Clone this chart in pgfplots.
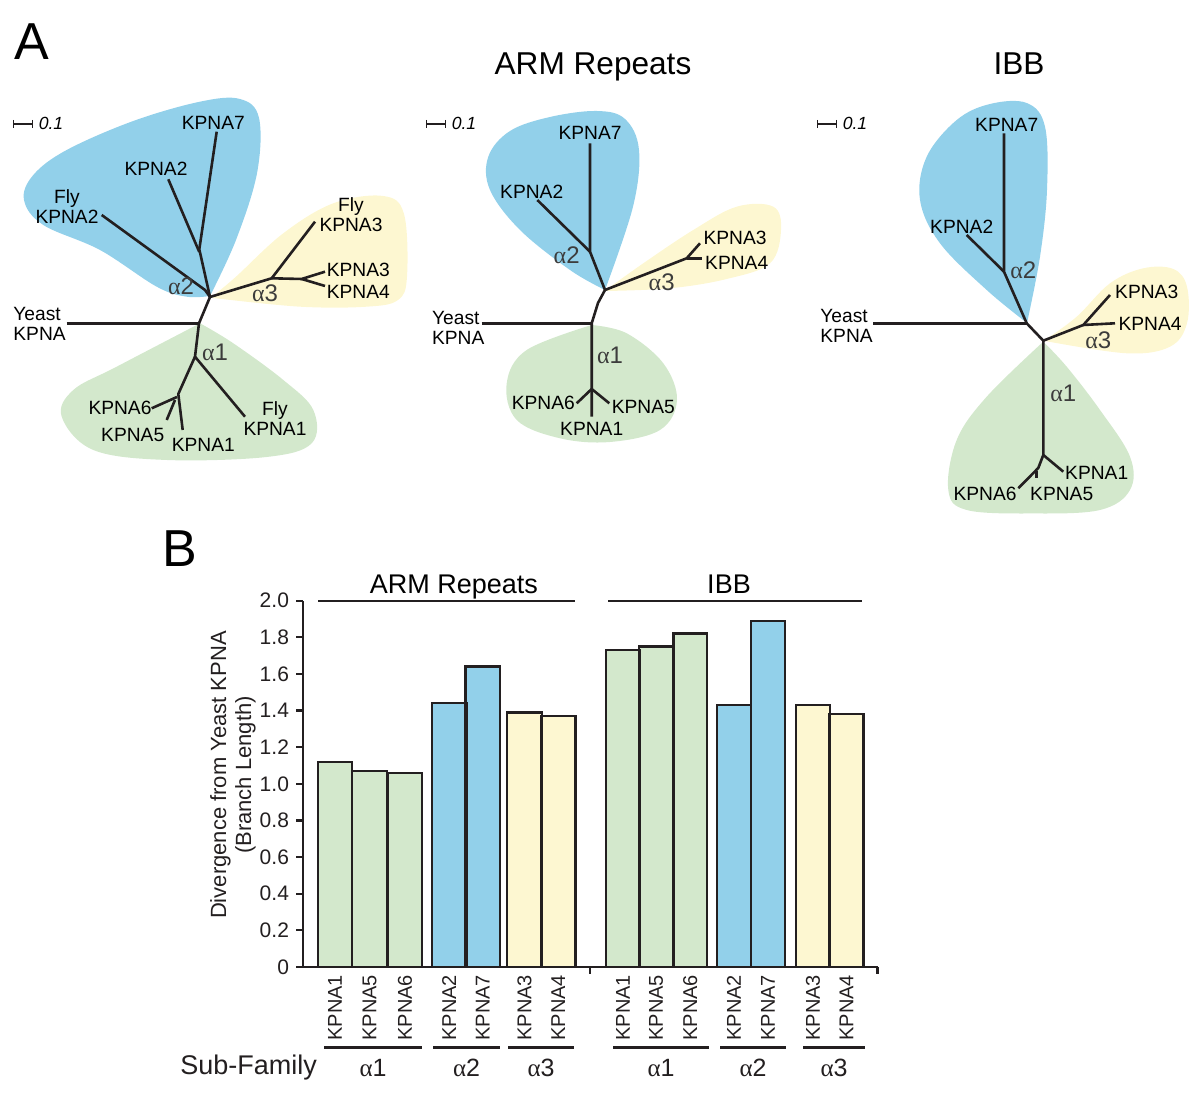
\documentclass[border=0pt]{standalone}
\usepackage{pgfplots}
\pgfplotsset{compat=1.18}
\usepackage{fontspec}
\setmainfont{Liberation Sans}
\newfontfamily\grk{Liberation Serif}
\definecolor{blueC}{RGB}{146,208,234}
\definecolor{greenC}{RGB}{211,232,204}
\definecolor{yellowC}{RGB}{253,247,209}
\definecolor{lineC}{RGB}{35,31,32}
\definecolor{alC}{RGB}{60,60,60}
\newcommand{\al}[1]{{\grk α}#1}
\tikzset{
  tl/.style={font=\fontsize{9.6}{10}\selectfont, inner sep=0pt, align=center},
  tal/.style={font=\fontsize{12}{12}\selectfont, inner sep=0pt, text=alC},
}
\begin{document}
\begin{tikzpicture}
\begin{axis}[scale only axis, width=600pt, height=547.5pt,
  xmin=0, xmax=1200, ymin=0, ymax=1095, y dir=reverse, hide axis, clip=false,
  every axis plot/.append style={mark=none}]
% ---------- blobs tree 1
\addplot[fill=blueC, draw=none, smooth, tension=0.6] coordinates {(210,296) (186.7,296.7) (156.7,286.7) (100,250) (43.3,225) (24,200) (33.3,175) (66.7,150) (133.3,121) (200,101.7) (240,99) (259,118) (257,173.3) (236,240) (210,296)};
\addplot[fill=yellowC, draw=none, smooth, tension=0.6] coordinates {(213,296) (236,276.7) (283.3,233.3) (333.3,203.3) (383.3,196) (404,214) (407,276.7) (398,300) (366.7,306.7) (300,306.7) (213,298)};
\addplot[fill=greenC, draw=none, smooth, tension=0.6] coordinates {(200,323.3) (233.3,343.3) (283.3,380) (313.3,410) (311.7,443.3) (266.7,457) (166.7,460) (93.3,450) (61.7,416.7) (73.3,390) (116.7,366.7) (200,323.3)};
% ---------- blobs tree 2
\addplot[fill=blueC, draw=none, smooth, tension=0.6] coordinates {(605,290) (570,270) (520,230) (490,190) (488.3,156.7) (510,131) (550,117) (596.7,111) (625,119) (639,150) (633,206.7) (605,290)};
\addplot[fill=yellowC, draw=none, smooth, tension=0.6] coordinates {(606,290) (643.3,263.3) (693.3,230) (736.7,206.7) (773.3,206.7) (781,230) (770,263.3) (726.7,279) (670,288.3) (606,291)};
\addplot[fill=greenC, draw=none, smooth, tension=0.6] coordinates {(591.7,325) (626.7,333.3) (663.3,363.3) (677,400) (660,430) (610,442) (560,438.3) (516.7,420) (506.7,383.3) (526.7,350) (591.7,325)};
% ---------- blobs tree 3
\addplot[fill=blueC, draw=none, smooth, tension=0.6] coordinates {(1027,323) (986.7,290) (940,243.3) (920,200) (926.7,156.7) (956.7,120) (990,104) (1026.7,103) (1045,126.7) (1047,190) (1040,256.7) (1027,323)};
\addplot[fill=yellowC, draw=none, smooth, tension=0.6] coordinates {(1045,340) (1076.7,316.7) (1110,283.3) (1143.3,268.3) (1173.3,269) (1187,286.7) (1187,323.3) (1170,346.7) (1126.7,353.3) (1045,341)};
\addplot[fill=greenC, draw=none, smooth, tension=0.6] coordinates {(1043.3,341.7) (1066.7,366.7) (1100,410) (1130,456.7) (1130,490) (1100,510) (1033.3,513.5) (966.7,510) (948.3,490) (956.7,440) (986.7,396.7) (1043.3,341.7)};
% ---------- tree 1 lines
\pgfplotsset{every axis plot/.append style={line join=round}}
\addplot[lineC, line width=1.3pt] coordinates {(101.7,215) (205,290) (210,297)};
\addplot[lineC, line width=1.3pt] coordinates {(210,297) (199.3,249.3) (216.7,131.7)};
\addplot[lineC, line width=1.3pt] coordinates {(199.3,252) (168.3,179.3)};
\addplot[lineC, line width=1.3pt] coordinates {(210,297) (199,323.3) (195,356.7)};
\addplot[lineC, line width=1.3pt] coordinates {(66.7,323.3) (199,323.3)};
\addplot[lineC, line width=1.3pt] coordinates {(245,416.7) (195,356.7) (178.3,394) (182.7,430)};
\addplot[lineC, line width=1.3pt] coordinates {(151.7,408.3) (177,397)};
\addplot[lineC, line width=1.3pt] coordinates {(166.7,420) (175,400)};
\addplot[lineC, line width=1.3pt] coordinates {(210,297) (271.7,278.3) (315,221.7)};
\addplot[lineC, line width=1.3pt] coordinates {(271.7,278.3) (301.7,279) (325,271.7)};
\addplot[lineC, line width=1.3pt] coordinates {(301.7,279) (325,286)};
% ---------- tree 2 lines
\addplot[lineC, line width=1.3pt] coordinates {(605,290) (590,251.7) (590,143.3)};
\addplot[lineC, line width=1.3pt] coordinates {(590,251.7) (537.3,200)};
\addplot[lineC, line width=1.3pt] coordinates {(605,290) (598,303) (591.7,323.3) (591.7,416.7)};
\addplot[lineC, line width=1.3pt] coordinates {(481.7,323.3) (591.7,323.3)};
\addplot[lineC, line width=1.3pt] coordinates {(576.7,403.3) (591.7,389) (609.3,403.3)};
\addplot[lineC, line width=1.3pt] coordinates {(605,290) (686.7,258.3) (700,243.3)};
\addplot[lineC, line width=1.3pt] coordinates {(686.7,258.3) (701.7,258.3)};
% ---------- tree 3 lines
\addplot[lineC, line width=1.3pt] coordinates {(873.3,323.3) (1026.7,323.3)};
\addplot[lineC, line width=1.3pt] coordinates {(1026.7,323.3) (1004,271.7) (1004,133.3)};
\addplot[lineC, line width=1.3pt] coordinates {(1004,271.7) (966.7,235)};
\addplot[lineC, line width=1.3pt] coordinates {(1026.7,323.3) (1043.3,340.7) (1043.3,455) (1063.3,471.7)};
\addplot[lineC, line width=1.3pt] coordinates {(1043.3,340.7) (1083.3,325) (1110,295)};
\addplot[lineC, line width=1.3pt] coordinates {(1083.3,325) (1115,323.3)};
\addplot[lineC, line width=1.3pt] coordinates {(1043.3,455) (1038.3,468) (1018.3,488.3)};
\addplot[lineC, line width=1.3pt] coordinates {(1036.5,471) (1036.5,478)};
% ---------- scale bars
\addplot[lineC, line width=1.2pt] coordinates {(13,124) (33,124)};
\addplot[lineC, line width=0.9pt] coordinates {(13.5,120) (13.5,128)};
\addplot[lineC, line width=0.9pt] coordinates {(32.5,120) (32.5,128)};
\addplot[lineC, line width=1.2pt] coordinates {(426,124) (446,124)};
\addplot[lineC, line width=0.9pt] coordinates {(426.5,120) (426.5,128)};
\addplot[lineC, line width=0.9pt] coordinates {(445.5,120) (445.5,128)};
\addplot[lineC, line width=1.2pt] coordinates {(817,124) (837,124)};
\addplot[lineC, line width=0.9pt] coordinates {(817.5,120) (817.5,128)};
\addplot[lineC, line width=0.9pt] coordinates {(836.5,120) (836.5,128)};
% ---------- text panel A
\node[font=\fontsize{26}{26}\selectfont, inner sep=0pt, anchor=base] at (axis cs:31.5,60) {A};
\node[font=\fontsize{15.8}{16}\selectfont, inner sep=0pt, anchor=base] at (axis cs:593,75) {ARM Repeats};
\node[font=\fontsize{15.8}{16}\selectfont, inner sep=0pt, anchor=base] at (axis cs:1019,75) {IBB};
\node[font=\fontsize{8.8}{9}\itshape\selectfont, inner sep=0pt] at (axis cs:51,123) {0.1};
\node[font=\fontsize{8.8}{9}\itshape\selectfont, inner sep=0pt] at (axis cs:464,123) {0.1};
\node[font=\fontsize{8.8}{9}\itshape\selectfont, inner sep=0pt] at (axis cs:855,123) {0.1};
% tree 1 labels
\node[tl] at (axis cs:213.3,123.3) {KPNA7};
\node[tl] at (axis cs:156,169.3) {KPNA2};
\node[tl] at (axis cs:67,207) {Fly\\KPNA2};
\node[tal] at (axis cs:181,286.7) {\al{2}};
\node[tal] at (axis cs:265,293.3) {\al{3}};
\node[tl] at (axis cs:351,215) {Fly\\KPNA3};
\node[tl] at (axis cs:358.3,270) {KPNA3};
\node[tl] at (axis cs:358.3,291.7) {KPNA4};
\node[tl, anchor=west, align=left] at (axis cs:13,323.5) {Yeast\\KPNA};
\node[tal] at (axis cs:215,352.7) {\al{1}};
\node[tl] at (axis cs:120,408.3) {KPNA6};
\node[tl] at (axis cs:132.7,435) {KPNA5};
\node[tl] at (axis cs:203.3,445) {KPNA1};
\node[tl] at (axis cs:275,418.5) {Fly\\KPNA1};
% tree 2 labels
\node[tl] at (axis cs:590,133.3) {KPNA7};
\node[tl] at (axis cs:531.7,191.7) {KPNA2};
\node[tal] at (axis cs:566.7,255) {\al{2}};
\node[tal] at (axis cs:661.7,282.7) {\al{3}};
\node[tl] at (axis cs:735,238.3) {KPNA3};
\node[tl] at (axis cs:736.7,262.7) {KPNA4};
\node[tl, anchor=west, align=left] at (axis cs:431.7,327.5) {Yeast\\KPNA};
\node[tal] at (axis cs:610,355) {\al{1}};
\node[tl] at (axis cs:543.3,403.3) {KPNA6};
\node[tl] at (axis cs:643.3,406.7) {KPNA5};
\node[tl] at (axis cs:591.7,429.3) {KPNA1};
% tree 3 labels
\node[tl] at (axis cs:1006.7,125) {KPNA7};
\node[tl] at (axis cs:961.7,226.7) {KPNA2};
\node[tal] at (axis cs:1023.3,270) {\al{2}};
\node[tl, anchor=west, align=left] at (axis cs:820,325.5) {Yeast\\KPNA};
\node[tl] at (axis cs:1146.7,292.3) {KPNA3};
\node[tl] at (axis cs:1150,324.3) {KPNA4};
\node[tal] at (axis cs:1098.3,340) {\al{3}};
\node[tal] at (axis cs:1063.3,393.3) {\al{1}};
\node[tl] at (axis cs:1096.7,473.3) {KPNA1};
\node[tl] at (axis cs:985,494) {KPNA6};
\node[tl] at (axis cs:1061.7,494) {KPNA5};
% panel B letter
\node[font=\fontsize{26}{26}\selectfont, inner sep=0pt, anchor=base] at (axis cs:180,567) {B};
\coordinate (pA) at (axis cs:0,1095);
\coordinate (pB) at (axis cs:1200,0);
\coordinate (borig) at (axis cs:303,967);
\end{axis}
% ================= panel B bar chart
\begin{axis}[at={(borig)}, anchor=south west, scale only axis,
  width=287.5pt, height=183.15pt,
  xmin=303, xmax=878, ymin=0, ymax=2, enlargelimits=false, clip=false,
  axis x line*=bottom, axis y line*=left,
  axis line style={line width=1.1pt, draw=lineC},
  ytick={0,0.2,0.4,0.6,0.8,1,1.2,1.4,1.6,1.8,2},
  yticklabels={0,0.2,0.4,0.6,0.8,1.0,1.2,1.4,1.6,1.8,2.0},
  yticklabel style={font=\fontsize{10.5}{11}\selectfont, text=lineC},
  y tick style={line width=1.1pt, draw=lineC},
  tick align=outside, major tick length=3.5pt,
  xtick={335,369.5,405,449.25,482.75,524.5,558.25,622.9,656,690.3,733.9,767.9,813,846.4},
  xticklabels={KPNA1,KPNA5,KPNA6,KPNA2,KPNA7,KPNA3,KPNA4,KPNA1,KPNA5,KPNA6,KPNA2,KPNA7,KPNA3,KPNA4},
  x tick style={draw=none},
  xticklabel style={rotate=90, anchor=east, font=\fontsize{10}{10}\selectfont, text=lineC, xshift=3pt},
  every axis plot/.append style={mark=none},
]
\addplot[ybar, bar shift=0pt, bar width=34.5, fill=greenC, draw=lineC, line width=1.2pt] coordinates {(335,1.12) (369.5,1.07) (405,1.06)};
\addplot[ybar, bar shift=0pt, bar width=34.5, fill=blueC, draw=lineC, line width=1.2pt] coordinates {(449.25,1.44) (482.75,1.64)};
\addplot[ybar, bar shift=0pt, bar width=34.5, fill=yellowC, draw=lineC, line width=1.2pt] coordinates {(524.5,1.39) (558.25,1.37)};
\addplot[ybar, bar shift=0pt, bar width=33.5, fill=greenC, draw=lineC, line width=1.2pt] coordinates {(622.9,1.73) (656,1.75) (690.3,1.82)};
\addplot[ybar, bar shift=0pt, bar width=34, fill=blueC, draw=lineC, line width=1.2pt] coordinates {(733.9,1.43) (767.9,1.89)};
\addplot[ybar, bar shift=0pt, bar width=34, fill=yellowC, draw=lineC, line width=1.2pt] coordinates {(813,1.43) (846.4,1.38)};
% separator ticks
\addplot[lineC, line width=1.1pt] coordinates {(590,0) (590,-0.04)};
\addplot[lineC, line width=1.1pt] coordinates {(877.5,0) (877.5,-0.04)};
% group headers
\addplot[lineC, line width=1.1pt] coordinates {(318,2.0) (575,2.0)};
\addplot[lineC, line width=1.1pt] coordinates {(608,2.0) (862,2.0)};
\node[font=\fontsize{13.5}{14}\selectfont, anchor=base, inner sep=0pt] at (axis cs:454,2.041) {ARM Repeats};
\node[font=\fontsize{13.5}{14}\selectfont, anchor=base, inner sep=0pt] at (axis cs:729,2.041) {IBB};
% sub-family underlines
\addplot[lineC, line width=1.5pt] coordinates {(324,-0.442) (422,-0.442)};
\addplot[lineC, line width=1.5pt] coordinates {(433,-0.442) (500,-0.442)};
\addplot[lineC, line width=1.5pt] coordinates {(508,-0.442) (574,-0.442)};
\addplot[lineC, line width=1.5pt] coordinates {(613,-0.442) (709,-0.442)};
\addplot[lineC, line width=1.5pt] coordinates {(720,-0.442) (786,-0.442)};
\addplot[lineC, line width=1.5pt] coordinates {(803,-0.442) (865,-0.442)};
\node[font=\fontsize{12.5}{12}\selectfont, inner sep=0pt, text=lineC] at (axis cs:373,-0.551) {\al{1}};
\node[font=\fontsize{12.5}{12}\selectfont, inner sep=0pt, text=lineC] at (axis cs:466.5,-0.551) {\al{2}};
\node[font=\fontsize{12.5}{12}\selectfont, inner sep=0pt, text=lineC] at (axis cs:541,-0.551) {\al{3}};
\node[font=\fontsize{12.5}{12}\selectfont, inner sep=0pt, text=lineC] at (axis cs:661,-0.551) {\al{1}};
\node[font=\fontsize{12.5}{12}\selectfont, inner sep=0pt, text=lineC] at (axis cs:753,-0.551) {\al{2}};
\node[font=\fontsize{12.5}{12}\selectfont, inner sep=0pt, text=lineC] at (axis cs:834,-0.551) {\al{3}};
\node[font=\fontsize{13.5}{14}\selectfont, inner sep=0pt, anchor=west, text=lineC] at (axis cs:180,-0.551) {Sub-Family};
% y label
\node[font=\fontsize{11}{12.5}\selectfont, inner sep=0pt, rotate=90, align=center, text=lineC] at (axis cs:233,1.048) {Divergence from Yeast KPNA\\(Branch Length)};
\end{axis}
\pgfresetboundingbox
\path[use as bounding box] (pA) rectangle (pB);
\end{tikzpicture}
\end{document}
